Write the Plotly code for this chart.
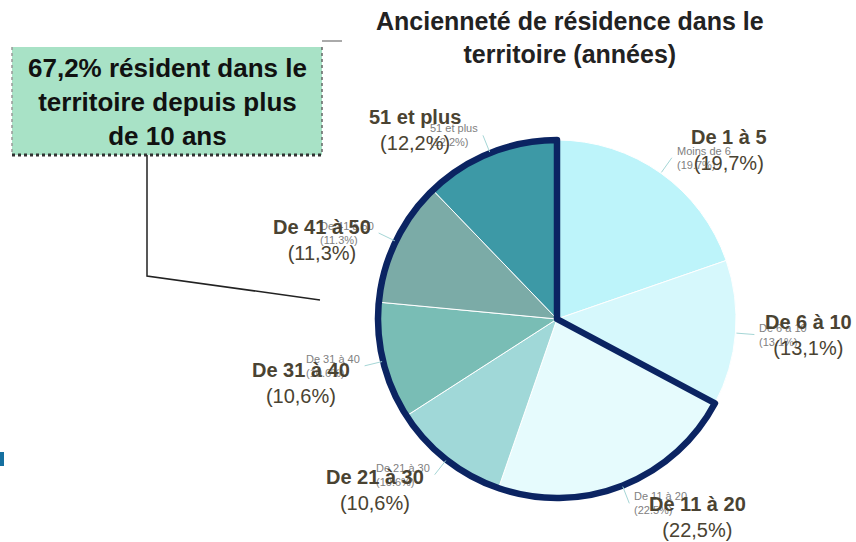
import math
import plotly.graph_objects as go

# ---------------- data ----------------
categories = ["De 1 à 5", "De 6 à 10", "De 11 à 20", "De 21 à 30",
              "De 31 à 40", "De 41 à 50", "51 et plus"]
ghost_labels = ["Moins de 6", "De 6 à 10", "De 11 à 20", "De 21 à 30",
                "De 31 à 40", "De 41 à 50", "51 et plus"]
values = [19.7, 13.1, 22.5, 10.6, 10.6, 11.3, 12.2]
callout_text = "67,2% résident dans le<br>territoire depuis plus<br>de 10 ans"
title_text = "Ancienneté de résidence dans le<br>territoire (années)"

# ---------------- style / layout ----------------
W, H = 856, 542
FONT = "Liberation Sans, Arial, sans-serif"
colors = ["#BDF4FA", "#D6F8FC", "#E6FBFD", "#A0D8D8", "#79BDB5", "#7BABA7", "#3D99A6"]
label_color = "#4A4332"
navy = "#0B2462"
CX, CY, R = 557, 319, 179          # pie centre / radius in pixels
# centre of the two-line main labels (pixels)
label_pos = [(729, 150), (808, 335), (697, 517), (375, 490),
             (301, 383), (322, 240), (415, 130)]


def px(x):
    return x / W


def py(y):
    return 1 - y / H


dom_x = [px(CX - R), px(CX + R)]
dom_y = [py(CY + R), py(CY - R)]

fig = go.Figure()
fig.add_trace(go.Pie(
    labels=categories, values=values, sort=False, direction="clockwise",
    rotation=0, domain=dict(x=dom_x, y=dom_y),
    marker=dict(colors=colors, line=dict(color="white", width=1)),
    textinfo="none", hoverinfo="label+percent", showlegend=False,
))

# thick outline around the "more than 10 years" group
n_short = 2
fig.add_trace(go.Pie(
    labels=["court", "long"],
    values=[sum(values[:n_short]), sum(values[n_short:])],
    sort=False, direction="clockwise", rotation=0,
    domain=dict(x=dom_x, y=dom_y),
    marker=dict(colors=["rgba(0,0,0,0)", "rgba(0,0,0,0)"],
                line=dict(color=["rgba(0,0,0,0)", navy], width=[0, 6.5])),
    textinfo="none", hoverinfo="skip", showlegend=False,
))

annotations = []
shapes = []
total = sum(values)
cum = 0
for i, v in enumerate(values):
    mid = (cum + v / 2) / total * 2 * math.pi
    cum += v
    sx, sy = math.sin(mid), -math.cos(mid)
    x1, y1 = CX + (R + 1) * sx, CY + (R + 1) * sy
    x2, y2 = CX + (R + 19) * sx, CY + (R + 19) * sy
    shapes.append(dict(type="line", xref="paper", yref="paper",
                       x0=px(x1), y0=py(y1), x1=px(x2), y1=py(y2),
                       line=dict(color="#A5D6D6", width=1)))
    right = sx >= 0
    annotations.append(dict(
        x=px(x2 + (3 if right else -3)), y=py(y2), xref="paper", yref="paper",
        text=f"{ghost_labels[i]}<br>({v:.1f}%)", showarrow=False,
        xanchor="left" if right else "right", yanchor="middle", align="left",
        font=dict(family=FONT, size=11, color="#808080")))

for i, v in enumerate(values):
    lx, ly = label_pos[i]
    pct = f"{v:.1f}".replace(".", ",")
    annotations.append(dict(
        x=px(lx), y=py(ly), xref="paper", yref="paper",
        text=f"<b>{categories[i]}</b><br>({pct}%)", showarrow=False,
        xanchor="center", yanchor="middle", align="center",
        font=dict(family=FONT, size=20, color=label_color)))

# title
annotations.append(dict(
    x=px(570), y=py(38), xref="paper", yref="paper", text=f"<b>{title_text}</b>",
    showarrow=False, xanchor="center", yanchor="middle", align="center",
    font=dict(family=FONT, size=25, color="#222222")))

# callout box
bx0, bx1, by0, by1 = 12, 322, 47, 155
shapes.append(dict(type="rect", xref="paper", yref="paper",
                   x0=px(bx0), x1=px(bx1), y0=py(by1), y1=py(by0),
                   fillcolor="#A8E2C6", line=dict(width=0), layer="below"))
shapes.append(dict(type="line", xref="paper", yref="paper",
                   x0=px(bx0), x1=px(bx1), y0=py(by1), y1=py(by1),
                   line=dict(color="#333333", width=3, dash="dot")))
shapes.append(dict(type="line", xref="paper", yref="paper",
                   x0=px(bx1), x1=px(bx1), y0=py(by0), y1=py(by1),
                   line=dict(color="#666666", width=1.5, dash="dot")))
shapes.append(dict(type="line", xref="paper", yref="paper",
                   x0=px(bx0), x1=px(bx0), y0=py(by0), y1=py(by1),
                   line=dict(color="#999999", width=1.5, dash="dot")))
annotations.append(dict(
    x=px((bx0 + bx1) / 2), y=py(102), xref="paper", yref="paper",
    text=f"<b>{callout_text}</b>", showarrow=False, xanchor="center",
    yanchor="middle", align="center",
    font=dict(family=FONT, size=26, color="#111111")))

# connector
shapes.append(dict(type="path", xref="paper", yref="paper",
                   path=f"M {px(147)} {py(155)} L {px(147)} {py(276)} L {px(320)} {py(300)}",
                   line=dict(color="#222222", width=1.5)))
# small grey line next to the title
shapes.append(dict(type="line", xref="paper", yref="paper",
                   x0=px(322), x1=px(342), y0=py(41), y1=py(41),
                   line=dict(color="#AAAAAA", width=2)))
# blue mark on the left edge
shapes.append(dict(type="rect", xref="paper", yref="paper",
                   x0=px(0), x1=px(4), y0=py(466), y1=py(452),
                   fillcolor="#1570A0", line=dict(width=0)))

fig.update_layout(
    width=W, height=H, margin=dict(l=0, r=0, t=0, b=0),
    paper_bgcolor="white", plot_bgcolor="white",
    annotations=annotations, shapes=shapes, showlegend=False,
)

fig.write_html("out.html", config={"displayModeBar": False},
               post_script="document.body.style.margin='0';document.body.style.padding='0';")
